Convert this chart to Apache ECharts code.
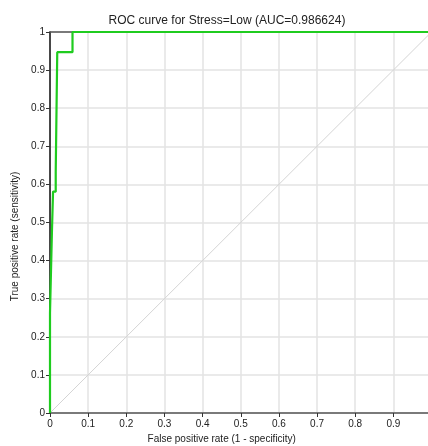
<!DOCTYPE html>
<html>
<head>
<meta charset="utf-8">
<script src="https://cdn.jsdelivr.net/npm/echarts@6/dist/echarts.min.js"></script>
<style>
  html, body { margin: 0; padding: 0; background: #fff; }
  #chart { width: 428px; height: 446px; }
</style>
</head>
<body>
<div id="chart"></div>
<script>
// ROC curve points
var fpr = [0, 0, 0.005, 0.005, 0.008, 0.008, 0.015, 0.015, 0.019, 0.019, 0.059, 0.059, 1];
var tpr = [0, 0.263, 0.263, 0.473, 0.473, 0.581, 0.581, 0.633, 0.633, 0.947, 0.947, 1, 1];
var diagonal = [[0, 0], [1, 1]];
var titleText = 'ROC curve for Stress=Low (AUC=0.986624)';

var chart = echarts.init(document.getElementById('chart'));
var font = 'Liberation Sans, Arial, sans-serif';

chart.setOption({
  animation: false,
  title: {
    text: titleText,
    left: 222, top: 10,
    textAlign: 'center',
    textStyle: { fontFamily: font, fontSize: 12, fontWeight: 'normal', color: '#222' }
  },
  grid: { left: 50, top: 32, width: 381.5, height: 381, containLabel: false, outerBoundsMode: 'none' },
  xAxis: [{
    type: 'value', min: 0, max: 1, interval: 0.1,
    name: 'False positive rate (1 - specificity)',
    nameLocation: 'middle', nameGap: 20,
    nameTextStyle: { fontFamily: font, fontSize: 10, color: '#222', padding: [0, 38, 0, 0] },
    axisLine: { show: true, lineStyle: { color: '#555', width: 1.5 } },
    axisTick: { show: true, inside: false, length: 4, lineStyle: { color: '#333' } },
    axisLabel: {
      fontFamily: font, fontSize: 10, color: '#222', margin: 6,
      formatter: function (v) { return v >= 1 ? '' : String(+v.toFixed(1)); }
    },
    splitLine: { show: true, lineStyle: { color: '#e3e3e3', width: 1.5 } }
  }, {
    type: 'value', min: 0, max: 1, position: 'top',
    axisLine: { show: true, lineStyle: { color: '#555', width: 1.5 } },
    axisTick: { show: false }, axisLabel: { show: false }, splitLine: { show: false }
  }],
  yAxis: {
    type: 'value', min: 0, max: 1, interval: 0.1,
    name: 'True positive rate (sensitivity)',
    nameLocation: 'middle', nameGap: 6,
    nameTextStyle: { fontFamily: font, fontSize: 10, color: '#222', padding: [0, 28, 0, 0] },
    axisLine: { show: true, lineStyle: { color: '#111', width: 1.5 } },
    axisTick: { show: true, inside: false, length: 4, lineStyle: { color: '#333' } },
    axisLabel: {
      fontFamily: font, fontSize: 10, color: '#222', margin: 5,
      formatter: function (v) { return String(+v.toFixed(1)); }
    },
    splitLine: { show: true, lineStyle: { color: '#e3e3e3', width: 1.5 } }
  },
  series: [{
    type: 'line',
    data: diagonal,
    symbol: 'none',
    silent: true,
    lineStyle: { color: '#d4d4d4', width: 1 }
  }, {
    type: 'line',
    data: fpr.map(function (x, i) { return [x, tpr[i]]; }),
    symbol: 'none',
    lineStyle: { color: '#1fcc1f', width: 2.2 }
  }]
});
</script>
</body>
</html>
